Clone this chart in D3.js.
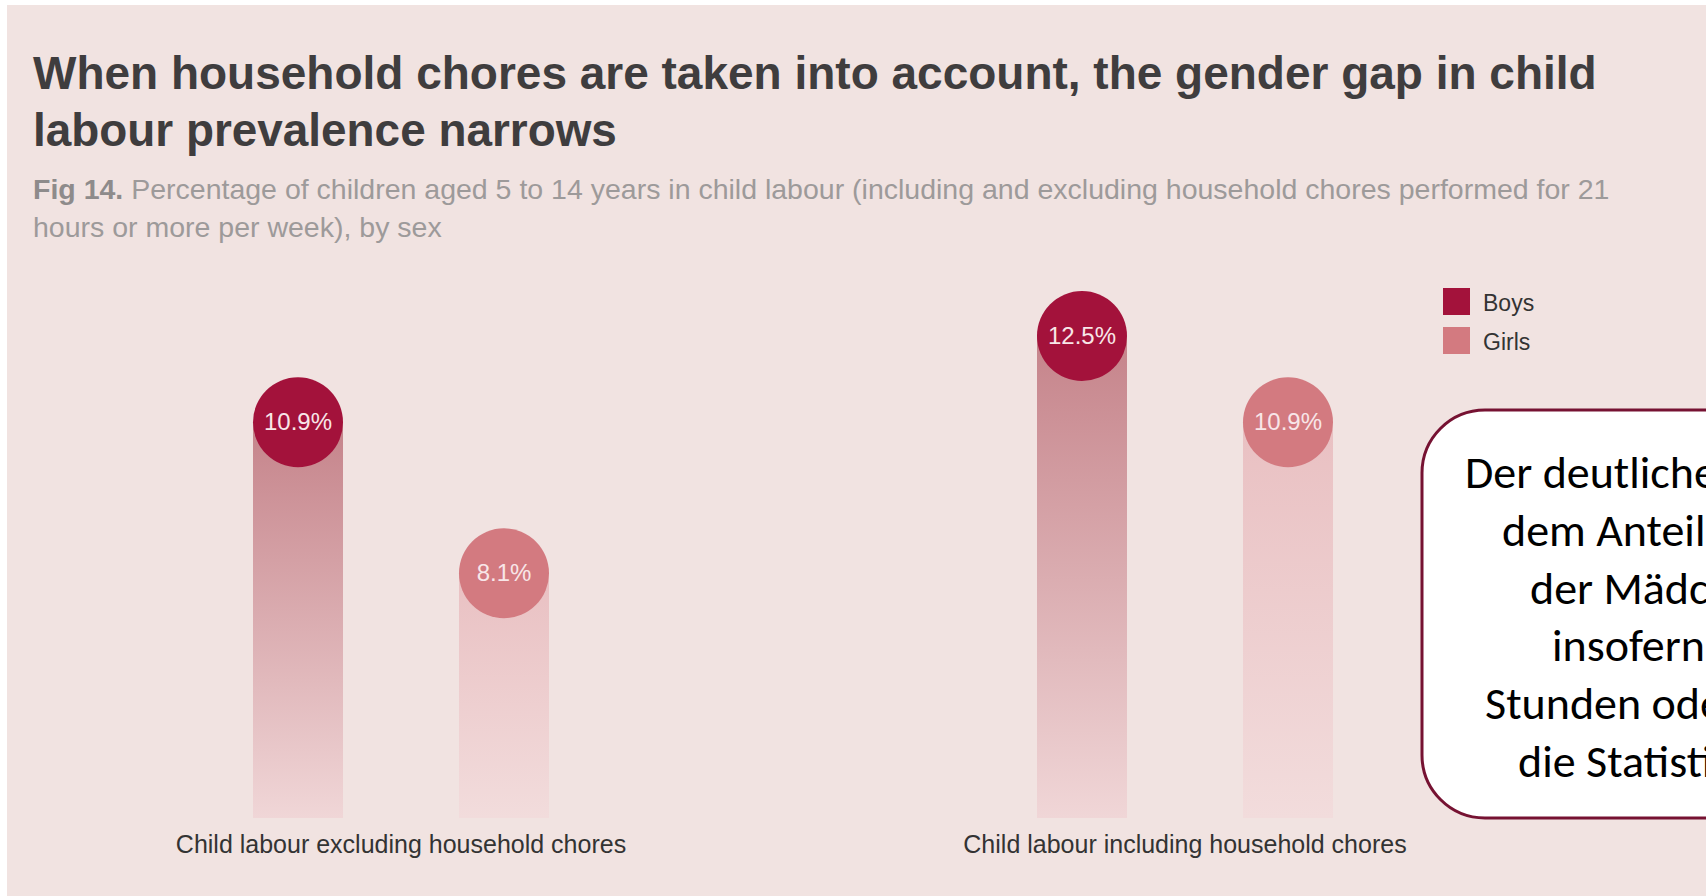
<!DOCTYPE html>
<html>
<head>
<meta charset="utf-8">
<script src="https://cdn.jsdelivr.net/npm/d3@7"></script>
<style>
  body { margin: 0; background: #ffffff; }
  svg { display: block; }
</style>
</head>
<body>
<div id="chart"></div>
<script>
// Data
var categories = ["Child labour excluding household chores", "Child labour including household chores"];
var sexes = ["Boys", "Girls"];
var boysValues = [10.9, 12.5];
var girlsValues = [8.1, 10.9];
var valueLabels = [["10.9%", "8.1%"], ["12.5%", "10.9%"]];

var titleLines = [
  "When household chores are taken into account, the gender gap in child",
  "labour prevalence narrows"
];
var subtitleLines = [
  "Percentage of children aged 5 to 14 years in child labour (including and excluding household chores performed for 21",
  "hours or more per week), by sex"
];
var noteLines = [
  "Der deutliche Unterschied zwischen",
  "dem Anteil der Jungen und",
  "der Mädchen verringert sich",
  "insofern Hausarbeit von 21",
  "Stunden oder mehr pro Woche in",
  "die Statistik einfließt."
];

// Define SVG area dimensions
var svgWidth = 1706;
var svgHeight = 896;

var colors = { Boys: "#a3123b", Girls: "#d37a80" };

var svg = d3.select("#chart")
  .append("svg")
  .attr("width", svgWidth)
  .attr("height", svgHeight);

// page background (thin white strip at top and left like the screenshot)
svg.append("rect")
  .attr("x", 7)
  .attr("y", 5)
  .attr("width", svgWidth - 7)
  .attr("height", svgHeight - 5)
  .attr("fill", "#f1e3e1");

// gradients for the bars
var defs = svg.append("defs");
function addGradient(id, top, bottom) {
  var g = defs.append("linearGradient")
    .attr("id", id)
    .attr("x1", 0).attr("y1", 0)
    .attr("x2", 0).attr("y2", 1);
  g.append("stop").attr("offset", "0%").attr("stop-color", top);
  g.append("stop").attr("offset", "100%").attr("stop-color", bottom);
}
addGradient("gradBoys", "#c5838a", "#f0d6d7");
addGradient("gradGirls", "#e9c0c2", "#f2dcdc");

// helper: shrink/grow font so the line has the wanted width
function fitWidth(sel, w) {
  var len = sel.node().getComputedTextLength();
  var fs = parseFloat(sel.attr("font-size"));
  sel.attr("font-size", fs * w / len);
}

// Title
var titleWidths = [1564, 584];
titleLines.forEach(function(line, i) {
  var t = svg.append("text")
    .attr("x", 33)
    .attr("y", 89 + i * 57)
    .attr("font-family", "Liberation Sans, Arial, Helvetica, sans-serif")
    .attr("font-weight", "bold")
    .attr("font-size", 44)
    .attr("fill", "#3f3d3e")
    .text(line);
  fitWidth(t, titleWidths[i]);
});

// Subtitle
var sub1 = svg.append("text")
  .attr("x", 33)
  .attr("y", 199)
  .attr("font-family", "Liberation Sans, Arial, Helvetica, sans-serif")
  .attr("font-size", 24)
  .attr("fill", "#9d9a9a");
sub1.append("tspan").attr("font-weight", "bold").attr("fill", "#8e8b8b").text("Fig 14. ");
sub1.append("tspan").text(subtitleLines[0]);
fitWidth(sub1, 1577);
var subSize = sub1.attr("font-size");
svg.append("text")
  .attr("x", 33)
  .attr("y", 237)
  .attr("font-family", "Liberation Sans, Arial, Helvetica, sans-serif")
  .attr("font-size", subSize)
  .attr("fill", "#9d9a9a")
  .text(subtitleLines[1]);

// Scales
var baseY = 818;
var x0 = d3.scaleBand()
  .domain(categories)
  .range([9, 1577]);
var x1 = d3.scalePoint()
  .domain(sexes)
  .range([-103, 103]);
var y = d3.scaleLinear()
  .domain([0, 12.5])
  .range([1010, 336]);
var r = 45;

// flatten into rows
var rows = [];
categories.forEach(function(c, i) {
  rows.push({ cat: c, sex: "Boys", value: boysValues[i], label: valueLabels[i][0] });
  rows.push({ cat: c, sex: "Girls", value: girlsValues[i], label: valueLabels[i][1] });
});
var cx = d => x0(d.cat) + x0.bandwidth() / 2 + x1(d.sex);

var chartGroup = svg.append("g");

// bars
chartGroup.selectAll("rect.bar")
  .data(rows)
  .enter()
  .append("rect")
  .attr("class", "bar")
  .attr("x", d => cx(d) - r)
  .attr("y", d => y(d.value))
  .attr("width", r * 2)
  .attr("height", d => baseY - y(d.value))
  .attr("fill", d => d.sex === "Boys" ? "url(#gradBoys)" : "url(#gradGirls)");

// circles on top
chartGroup.selectAll("circle")
  .data(rows)
  .enter()
  .append("circle")
  .attr("cx", cx)
  .attr("cy", d => y(d.value))
  .attr("r", r)
  .attr("fill", d => colors[d.sex]);

chartGroup.selectAll("text.val")
  .data(rows)
  .enter()
  .append("text")
  .attr("class", "val")
  .attr("x", cx)
  .attr("y", d => y(d.value) + 8)
  .attr("text-anchor", "middle")
  .attr("font-family", "Liberation Sans, Arial, Helvetica, sans-serif")
  .attr("font-size", 24)
  .attr("fill", "#f8e6e8")
  .text(d => d.label);

// category labels
chartGroup.selectAll("text.cat")
  .data(categories)
  .enter()
  .append("text")
  .attr("class", "cat")
  .attr("x", d => x0(d) + x0.bandwidth() / 2)
  .attr("y", 853)
  .attr("text-anchor", "middle")
  .attr("font-family", "Liberation Sans, Arial, Helvetica, sans-serif")
  .attr("font-size", 25)
  .attr("fill", "#333333")
  .text(d => d);

// legend
var legend = svg.append("g")
  .attr("transform", "translate(1443, 288)");
sexes.forEach(function(s, i) {
  legend.append("rect")
    .attr("x", 0)
    .attr("y", i * 39)
    .attr("width", 27)
    .attr("height", 27)
    .attr("fill", colors[s]);
  legend.append("text")
    .attr("x", 40)
    .attr("y", i * 39 + 23)
    .attr("font-family", "Liberation Sans, Arial, Helvetica, sans-serif")
    .attr("font-size", 23)
    .attr("fill", "#333333")
    .text(s);
});

// note box (runs off the right edge)
svg.append("rect")
  .attr("x", 1422)
  .attr("y", 410)
  .attr("width", 600)
  .attr("height", 408)
  .attr("rx", 63)
  .attr("ry", 63)
  .attr("fill", "#ffffff")
  .attr("stroke", "#761232")
  .attr("stroke-width", 3);

var noteX = [1465, 1502, 1530, 1552, 1485, 1518];
noteLines.forEach(function(line, i) {
  svg.append("text")
    .attr("x", noteX[i])
    .attr("y", 488 + i * 57.8)
    .attr("font-family", "Calibri, Carlito, Lato, sans-serif")
    .attr("font-size", 46)
    .attr("fill", "#000000")
    .text(line);
});
</script>
</body>
</html>
